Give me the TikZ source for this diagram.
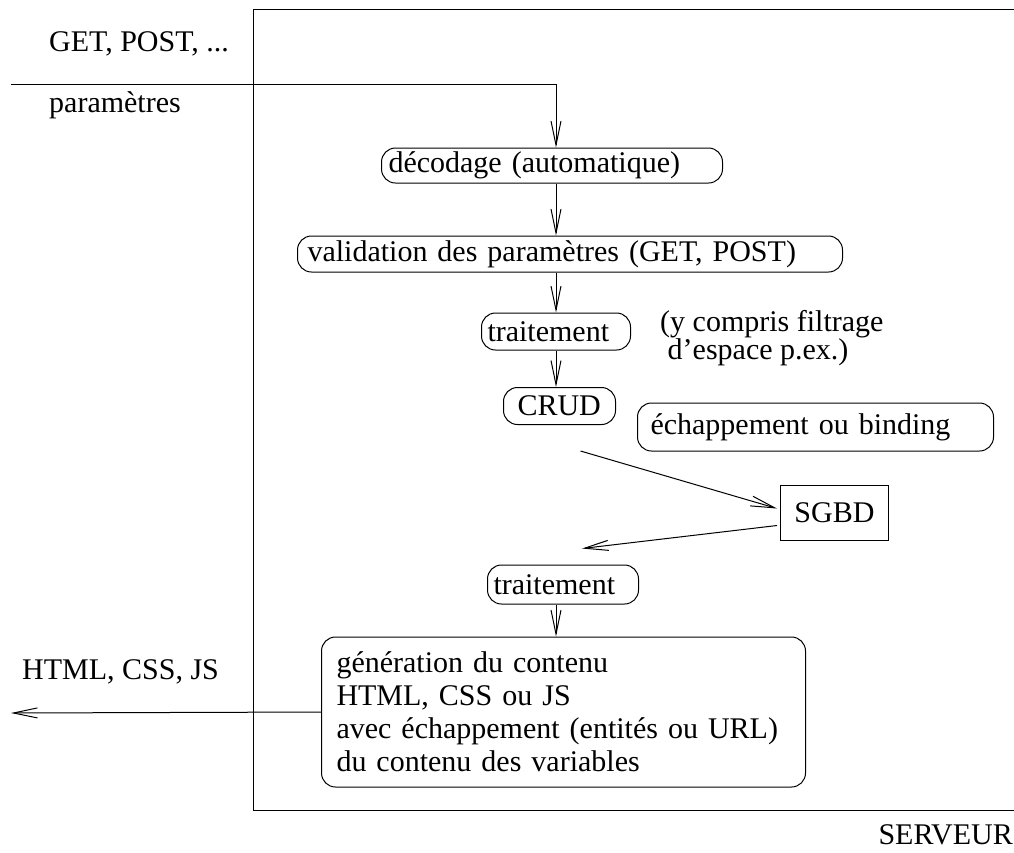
\documentclass[tikz,border=0pt]{standalone}
\usepackage{fontspec}
\setmainfont{Liberation Serif}
\usepackage{tikz}
\usetikzlibrary{arrows.meta,positioning,calc}
\tikzset{
  etape/.style={draw,rounded corners=14pt,anchor=west,align=left,inner xsep=7pt,
    inner ysep=0pt,line width=1pt},
  sgbd/.style={draw,anchor=west,minimum width=108pt,minimum height=55pt,line width=1pt},
  note/.style={anchor=west,align=left,inner sep=0pt},
  fleche/.style={-{Straight Barb[length=24pt,width=10pt]},line width=1pt}
}
\begin{document}
\begin{tikzpicture}[x=1pt,y=-1pt,font=\fontsize{30}{33}\selectfont]
\useasboundingbox (0,0) rectangle (1014,852);
\draw[line width=1pt] (1016,9) -- (253,9) -- (253,810) -- (1016,810);
\coordinate (axe) at (556,0);
\coordinate (entree) at (11,84);
\coordinate (sortie) at (11,713);
\node[note] (methodes) at (49,44) {GET, POST, ...};
\node[note] (params) at (49,105) {paramètres};
\node[etape,text width=327pt,minimum height=35pt] (dec) at (381,165.5) {décodage (automatique)};
\node[etape,inner xsep=10pt,text width=525pt,minimum height=36pt] (val) at (297,254) {validation des paramètres (GET, POST)};
\node[etape,inner xsep=6pt,text width=137pt,minimum height=37pt] (trait) at (481,331.5) {traitement};
\node[note,font=\fontsize{30}{28}\selectfont] (filtre) at (660,338) {(y compris filtrage\\\ d’espace p.ex.)};
\node[etape,inner xsep=14pt,text width=84pt,minimum height=37pt] (crud) at (503,406) {CRUD};
\node[etape,inner xsep=13pt,text width=330pt,minimum height=48pt] (esc) at (637,427) {échappement ou binding};
\node[sgbd] (base) at (780,512.5) {SGBD};
\node[etape,inner xsep=6pt,text width=139pt,minimum height=39pt] (trait2) at (487,584.5) {traitement};
\node[etape,inner xsep=15pt,text width=454pt,minimum height=150pt] (gen) at (321,712)
  {génération du contenu\\HTML, CSS ou JS\\avec échappement (entités ou URL)\\du contenu des variables};
\node[note] (html) at (22,672) {HTML, CSS, JS};
\node[anchor=east,inner sep=0pt] (serveur) at (1013,835) {SERVEUR};
\draw[fleche] (entree) -- (entree -| axe) -- (dec.north -| axe);
\draw[fleche] (dec.south -| axe) -- (val.north -| axe);
\draw[fleche] (val.south -| axe) -- (trait.north -| axe);
\draw[fleche] (trait.south -| axe) -- (crud.north -| axe);
\draw[fleche] ($(crud.south)+(21,26)$) -- ($(base.west)+(-3,-4)$);
\draw[fleche] ($(base.west)+(-3,13)$) -- ($(trait2.north)+(19,-16)$);
\draw[fleche] (trait2.south -| axe) -- (gen.north -| axe);
\draw[fleche] (gen.west) -- (sortie);
\end{tikzpicture}
\end{document}
